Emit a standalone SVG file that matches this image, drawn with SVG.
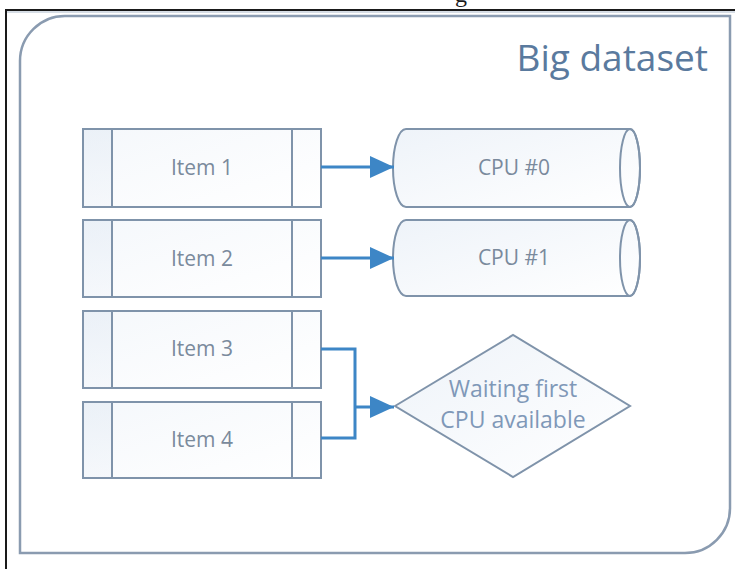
<svg xmlns="http://www.w3.org/2000/svg" width="735" height="569" viewBox="0 0 735 569">
  <defs>
    <linearGradient id="gItem" x1="0" y1="0" x2="1" y2="1">
      <stop offset="0" stop-color="#eef3f9"/>
      <stop offset="1" stop-color="#ffffff"/>
    </linearGradient>
    <linearGradient id="gSide" x1="0" y1="0" x2="0" y2="1">
      <stop offset="0" stop-color="#e6edf5"/>
      <stop offset="1" stop-color="#f3f6fa"/>
    </linearGradient>
    <marker id="arrowBig" viewBox="0 0 24 22" refX="24" refY="11" markerWidth="24" markerHeight="22" markerUnits="userSpaceOnUse" orient="auto">
      <path d="M0,0 L24,11 L0,22 z" fill="#3d86c6"/>
    </marker>
  </defs>
  <style>
    .frame { stroke: #1a1a1a; stroke-width: 2; fill: none; }
    .box { fill: url(#gItem); stroke: #7f93aa; stroke-width: 2; }
    .side { fill: url(#gSide); stroke: none; }
    .div { stroke: #7f93aa; stroke-width: 2; fill: none; }
    .lbl { font-family: "Open Sans", "Liberation Sans", sans-serif; font-size: 21px; fill: #7a8a9c; text-anchor: middle; }
    .dlbl { font-family: "Open Sans", "Liberation Sans", sans-serif; font-size: 23px; fill: #7f98b8; text-anchor: middle; }
    .conn { stroke: #3d86c6; stroke-width: 3; fill: none; }
    .title { font-family: "Open Sans", "Liberation Sans", sans-serif; font-size: 37px; fill: #5a7a9e; text-anchor: end; }
  </style>
  <rect x="0" y="0" width="735" height="569" fill="#ffffff"/>
  <text x="461" y="2" font-family="Liberation Serif, serif" font-size="24" fill="#1a1a1a" text-anchor="middle">g</text>
  <path class="frame" d="M6,569 V10 H735"/>
  <line x1="7" y1="12" x2="735" y2="12" stroke="#c9d2dc" stroke-width="1.5"/>

  <g id="big-dataset">
    <path d="M66,16 H730 V508 A45,45 0 0 1 685,553 H20 V61 A45,45 0 0 1 66,16 Z" fill="#ffffff" stroke="#8a9bb0" stroke-width="2.5"/>
    <text class="title" x="708" y="71">Big dataset</text>
  </g>

  <g id="item1">
    <rect class="side" x="83" y="129" width="29" height="78"/>
    <rect class="box" x="83" y="129" width="238" height="78" fill-opacity="0.6"/>
    <line class="div" x1="112" y1="129" x2="112" y2="207"/>
    <line class="div" x1="292" y1="129" x2="292" y2="207"/>
    <text class="lbl" x="202" y="175">Item 1</text>
  </g>
  <g id="item2">
    <rect class="side" x="83" y="220" width="29" height="77"/>
    <rect class="box" x="83" y="220" width="238" height="77" fill-opacity="0.6"/>
    <line class="div" x1="112" y1="220" x2="112" y2="297"/>
    <line class="div" x1="292" y1="220" x2="292" y2="297"/>
    <text class="lbl" x="202" y="266">Item 2</text>
  </g>
  <g id="item3">
    <rect class="side" x="83" y="311" width="29" height="77"/>
    <rect class="box" x="83" y="311" width="238" height="77" fill-opacity="0.6"/>
    <line class="div" x1="112" y1="311" x2="112" y2="388"/>
    <line class="div" x1="292" y1="311" x2="292" y2="388"/>
    <text class="lbl" x="202" y="356">Item 3</text>
  </g>
  <g id="item4">
    <rect class="side" x="83" y="402" width="29" height="76"/>
    <rect class="box" x="83" y="402" width="238" height="76" fill-opacity="0.6"/>
    <line class="div" x1="112" y1="402" x2="112" y2="478"/>
    <line class="div" x1="292" y1="402" x2="292" y2="478"/>
    <text class="lbl" x="202" y="447">Item 4</text>
  </g>

  <g id="cpu0">
    <path class="box" d="M406,129 H630 A10,39 0 0 1 630,207 H406 A13,39 0 0 1 406,129 Z"/>
    <ellipse cx="630" cy="168" rx="10" ry="39" fill="none" stroke="#7f93aa" stroke-width="2"/>
    <text class="lbl" x="514" y="175">CPU #0</text>
  </g>
  <g id="cpu1">
    <path class="box" d="M406,220 H630 A10,38 0 0 1 630,296 H406 A13,38 0 0 1 406,220 Z"/>
    <ellipse cx="630" cy="258" rx="10" ry="38" fill="none" stroke="#7f93aa" stroke-width="2"/>
    <text class="lbl" x="514" y="265">CPU #1</text>
  </g>

  <g id="waiting">
    <path class="box" d="M395,406 L513,335 L630,406 L513,477 Z"/>
    <text class="dlbl" x="513" y="397">Waiting first</text>
    <text class="dlbl" x="513" y="428">CPU available</text>
  </g>

  <g id="connectors">
    <line class="conn" x1="321" y1="167" x2="394" y2="167" marker-end="url(#arrowBig)"/>
    <line class="conn" x1="321" y1="258" x2="394" y2="258" marker-end="url(#arrowBig)"/>
    <path class="conn" d="M321,349 H355 V438 H321"/>
    <line class="conn" x1="355" y1="407" x2="394" y2="407" marker-end="url(#arrowBig)"/>
  </g>
</svg>
